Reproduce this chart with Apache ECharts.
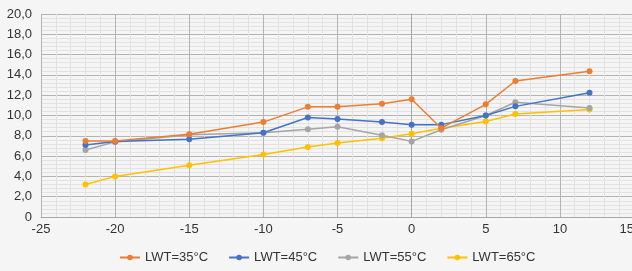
<!DOCTYPE html>
<html>
<head>
<meta charset="utf-8">
<script src="https://cdn.jsdelivr.net/npm/echarts@6/dist/echarts.min.js"></script>
<style>
  html, body { margin: 0; padding: 0; background: #f5f5f5; }
  #chart { width: 632px; height: 271px; }
</style>
</head>
<body>
<div id="chart"></div>
<script>
// outdoor temperatures (x)
const temps = [-22, -20, -15, -10, -7, -5, -2, 0, 2, 5, 7, 12]
// capacity values per leaving water temperature
const lwt35 = [7.5, 7.5, 8.15, 9.35, 10.85, 10.85, 11.15, 11.6, 8.75, 11.1, 13.4, 14.35]
const lwt45 = [7.1, 7.45, 7.65, 8.3, 9.8, 9.65, 9.35, 9.1, 9.1, 10.0, 10.9, 12.25]
const lwt55 = [6.6, 7.4, 8.1, 8.3, 8.65, 8.9, 8.05, 7.45, 8.6, 10.0, 11.3, 10.75]
const lwt65 = [3.2, 4.0, 5.1, 6.15, 6.9, 7.3, 7.75, 8.2, 8.75, 9.4, 10.15, 10.6]
const seriesNames = ['LWT=35°C', 'LWT=45°C', 'LWT=55°C', 'LWT=65°C']
const seriesColors = ['#ED7D31', '#4472C4', '#A5A5A5', '#FFC000']

const chart = echarts.init(document.getElementById('chart'))

// 组合成点对
const pairs = (vals) => temps.map((t, i) => [t, vals[i]])
const allVals = [lwt35, lwt45, lwt55, lwt65]

const option = {
    backgroundColor: '#f5f5f5',
    textStyle: { fontFamily: 'Liberation Sans, Arial, sans-serif' },
    grid: {
        left: 41,
        top: 14,
        right: -2,
        bottom: 54,
        containLabel: false,
        outerBoundsMode: 'none'
    },
    xAxis: {
        type: 'value',
        min: -25,
        max: 15,
        interval: 5,
        axisLine: { show: true, onZero: false, lineStyle: { color: '#a6a6a6' } },
        axisTick: { show: false },
        axisLabel: { color: '#333', fontSize: 13, margin: 6, hideOverlap: false, alignMaxLabel: 'right' },
        splitLine: { show: true, lineStyle: { color: '#b4b4b4', width: 1 } },
        minorTick: { show: false, splitNumber: 5 },
        minorSplitLine: { show: true, lineStyle: { color: '#e2e2e2', width: 1 } }
    },
    yAxis: {
        type: 'value',
        min: 0,
        max: 20,
        interval: 2,
        axisLine: { show: true, lineStyle: { color: '#a6a6a6' } },
        axisTick: { show: false },
        axisLabel: {
            color: '#333',
            fontSize: 13,
            margin: 9,
            formatter: (v) => v === 0 ? '0' : v.toFixed(1).replace('.', ',')
        },
        splitLine: { show: true, lineStyle: { color: '#b4b4b4', width: 1 } },
        minorTick: { show: false, splitNumber: 5 },
        minorSplitLine: { show: true, lineStyle: { color: '#e2e2e2', width: 1 } }
    },
    legend: {
        bottom: 2,
        left: 114,
        itemWidth: 20,
        itemHeight: 7,
        itemGap: 20,
        textStyle: { color: '#333', fontSize: 13 },
        data: seriesNames
    },
    series: seriesNames.map((name, i) => ({
        name: name,
        type: 'line',
        data: pairs(allVals[i]),
        symbol: 'circle',
        symbolSize: 6,
        color: seriesColors[i],
        lineStyle: { width: 1.5, color: seriesColors[i] },
        itemStyle: { color: seriesColors[i] },
        z: 10 - i
    }))
}
chart.setOption(option)
</script>
</body>
</html>
